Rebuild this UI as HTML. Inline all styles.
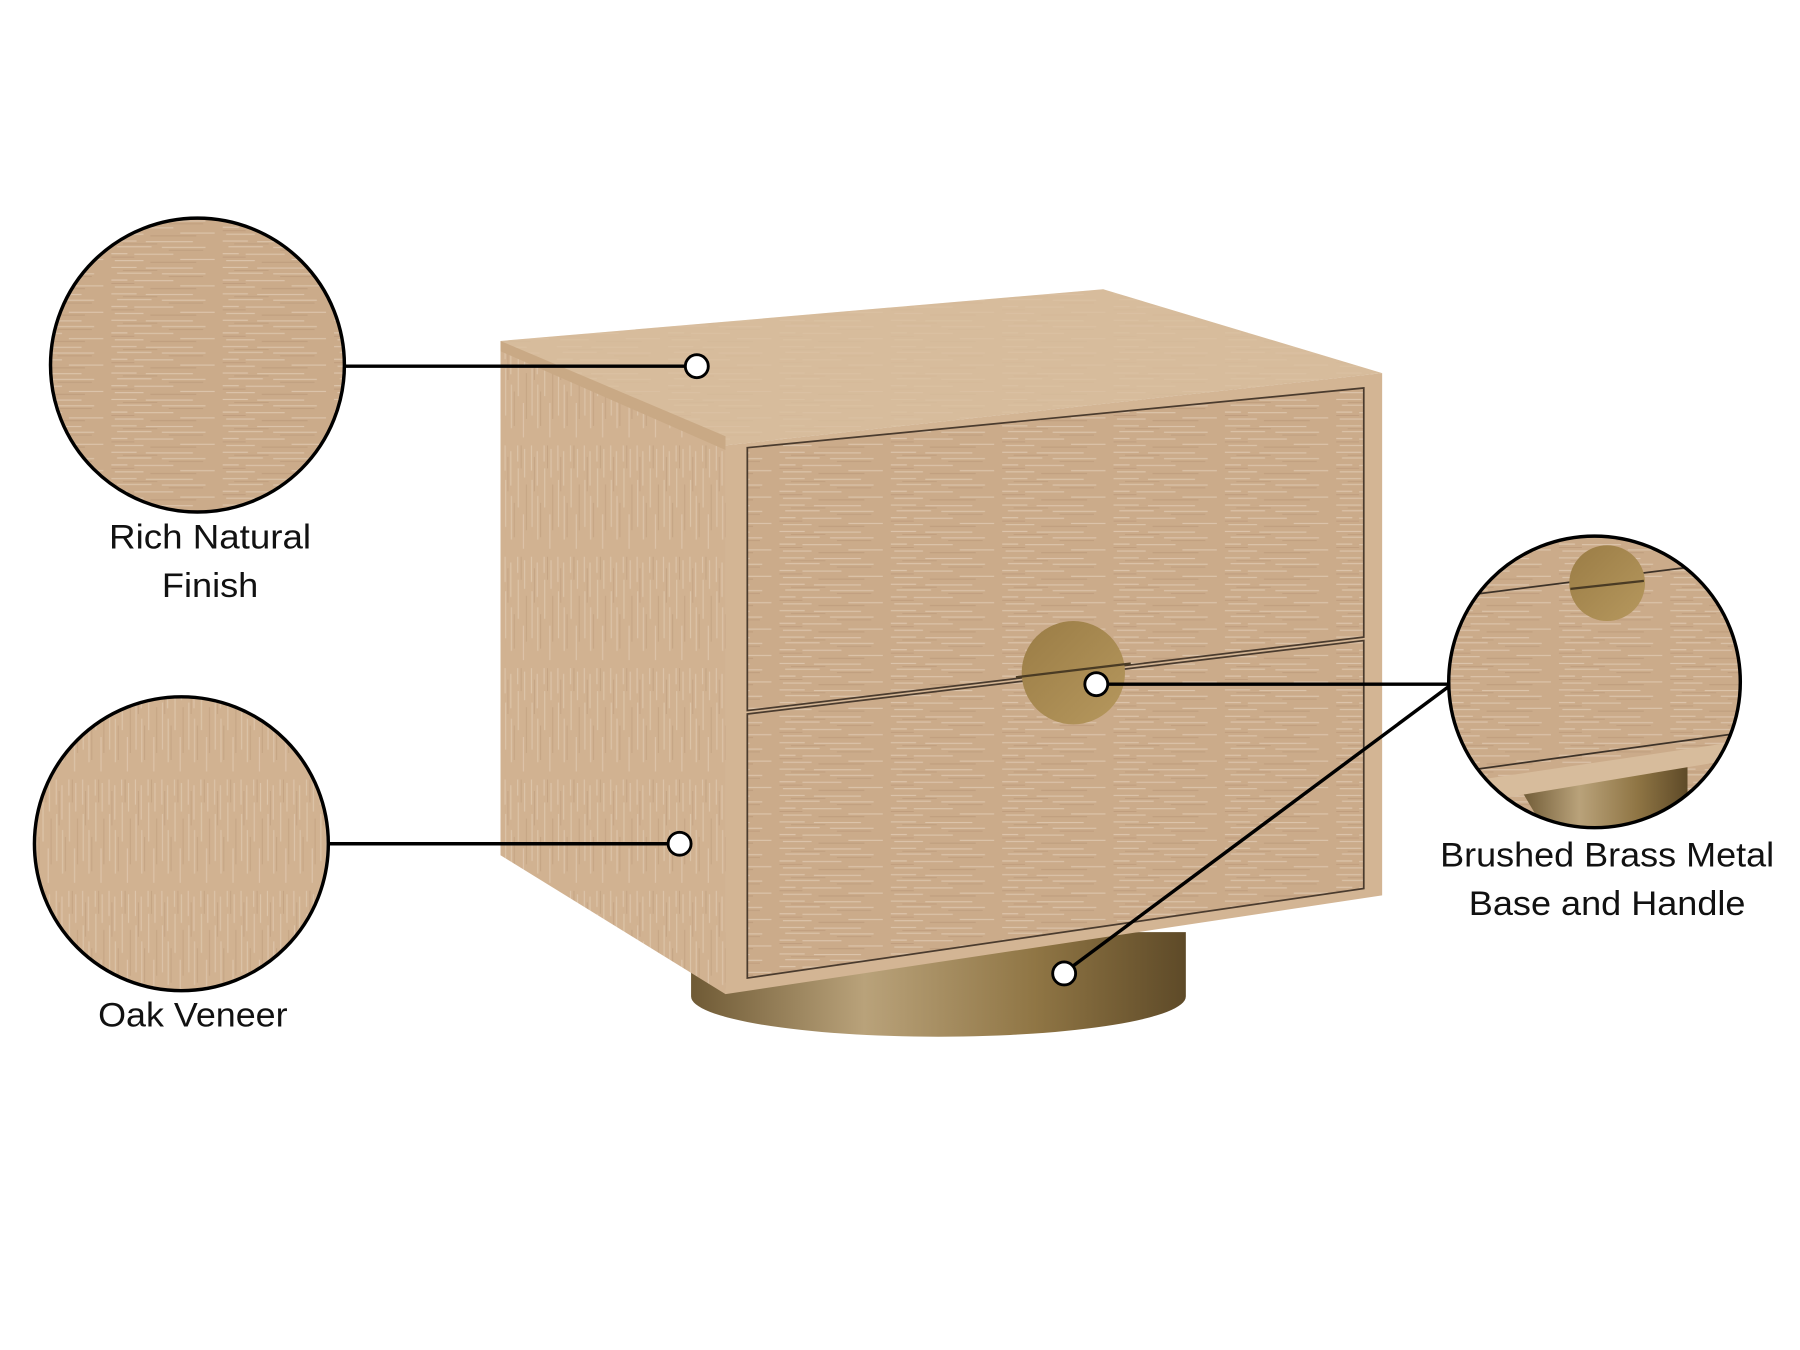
<!DOCTYPE html>
<html><head><meta charset="utf-8"><style>
html,body{margin:0;padding:0;background:#fff;}
svg{display:block}
text{font-family:"Liberation Sans",sans-serif;fill:#111;}
</style></head><body>
<svg width="1800" height="1350" viewBox="0 0 1568 1176" preserveAspectRatio="none" xmlns="http://www.w3.org/2000/svg">
<defs>
  <pattern id="gh" width="97" height="23" patternUnits="userSpaceOnUse">
    <rect width="97" height="23" fill="#cbab8a"/>
    <path d="M0 3h22M30 3.5h41M5 8h30M44 8.5h38M0 14h14M20 14.5h34M60 19h30M3 20h25" stroke="#e8d6c2" stroke-width="1" opacity="0.6"/>
    <path d="M10 5.5h30M50 11h30M0 17h20M34 21.5h40" stroke="#a98567" stroke-width="0.8" opacity="0.4"/>
  </pattern>
  <pattern id="gv" width="23" height="97" patternUnits="userSpaceOnUse">
    <rect width="23" height="97" fill="#d1b291"/>
    <path d="M3 0v22M3.5 30v41M8 5v30M8.5 44v38M14 0v14M14.5 20v34M19 60v30M20 3v25" stroke="#e8d6c2" stroke-width="1" opacity="0.5"/>
    <path d="M5.5 10v30M11 50v30M17 0v20M21.5 34v40" stroke="#a98567" stroke-width="0.8" opacity="0.35"/>
  </pattern>
  <linearGradient id="brass" x1="0" x2="1" y1="0" y2="0">
    <stop offset="0" stop-color="#6f5a35"/>
    <stop offset="0.35" stop-color="#b9a27a"/>
    <stop offset="0.7" stop-color="#8f7544"/>
    <stop offset="1" stop-color="#5e4a28"/>
  </linearGradient>
  <linearGradient id="handle" x1="0" x2="1" y1="0" y2="1">
    <stop offset="0" stop-color="#9a7c45"/>
    <stop offset="1" stop-color="#b6985e"/>
  </linearGradient>
  <clipPath id="c3"><circle cx="1389" cy="594" r="127"/></clipPath>
</defs>

<path d="M602 812 L1033 812 L1033 868 A215 35 0 0 1 602 868 Z" fill="url(#brass)"/>

<polygon points="436,297 632,388 632,866 436,745" fill="url(#gv)"/>
<polygon points="436,297 961,252 1204,325 632,388" fill="#dac0a0"/>
<polygon points="436,297 961,252 1204,325 632,388" fill="url(#gh)" opacity="0.2"/>
<polygon points="436,297 632,380 632,392 436,306" fill="#c9a985"/>
<polygon points="632,388 1204,325 1204,780 632,866" fill="#d3b594"/>
<polygon points="651,390 1188,338 1188,555 651,619" fill="url(#gh)" stroke="#4a3b2e" stroke-width="1.5"/>
<polygon points="651,622 1188,558 1188,774 651,852" fill="url(#gh)" stroke="#4a3b2e" stroke-width="1.5"/>
<circle cx="935" cy="586" r="45" fill="url(#handle)"/>
<path d="M885 590 L985 578" stroke="#4a3b24" stroke-width="2"/>

<g stroke="#000" stroke-width="3" fill="none">
  <line x1="301" y1="319" x2="597" y2="319"/>
  <line x1="287" y1="735" x2="582" y2="735"/>
  <line x1="965" y1="596" x2="1262" y2="596"/>
  <line x1="934" y1="842" x2="1262" y2="598"/>
</g>
<g fill="#fff" stroke="#000" stroke-width="2.5">
  <circle cx="607" cy="319" r="10"/>
  <circle cx="592" cy="735" r="10"/>
  <circle cx="955" cy="596" r="10"/>
  <circle cx="927" cy="848" r="10"/>
</g>

<circle cx="172" cy="318" r="128" fill="url(#gh)" stroke="#000" stroke-width="3"/>
<circle cx="158" cy="735" r="128" fill="url(#gv)" stroke="#000" stroke-width="3"/>
<g clip-path="url(#c3)">
  <rect x="1250" y="460" width="280" height="270" fill="url(#gh)"/>
  <path d="M1325 688 L1470 660 L1470 700 Q1420 730 1345 722 Z" fill="url(#brass)"/>
  <polygon points="1250,685 1520,645 1520,660 1250,705" fill="#d7bc9c"/>
  <line x1="1250" y1="522" x2="1520" y2="488" stroke="#3d3228" stroke-width="1.5"/>
  <line x1="1250" y1="675" x2="1520" y2="638" stroke="#3d3228" stroke-width="1.5"/>
  <circle cx="1400" cy="508" r="33" fill="url(#handle)"/>
  <line x1="1368" y1="513" x2="1432" y2="506" stroke="#4a3b24" stroke-width="2"/>
</g>
<circle cx="1389" cy="594" r="127" fill="none" stroke="#000" stroke-width="3"/>

<text x="183" y="478" font-size="30" text-anchor="middle" textLength="176" lengthAdjust="spacingAndGlyphs">Rich Natural</text>
<text x="183" y="520" font-size="30" text-anchor="middle" textLength="84" lengthAdjust="spacingAndGlyphs">Finish</text>
<text x="168" y="894" font-size="30" text-anchor="middle" textLength="165" lengthAdjust="spacingAndGlyphs">Oak Veneer</text>
<text x="1400" y="755" font-size="30" text-anchor="middle" textLength="291" lengthAdjust="spacingAndGlyphs">Brushed Brass Metal</text>
<text x="1400" y="797" font-size="30" text-anchor="middle" textLength="241" lengthAdjust="spacingAndGlyphs">Base and Handle</text>
</svg>
</body></html>
